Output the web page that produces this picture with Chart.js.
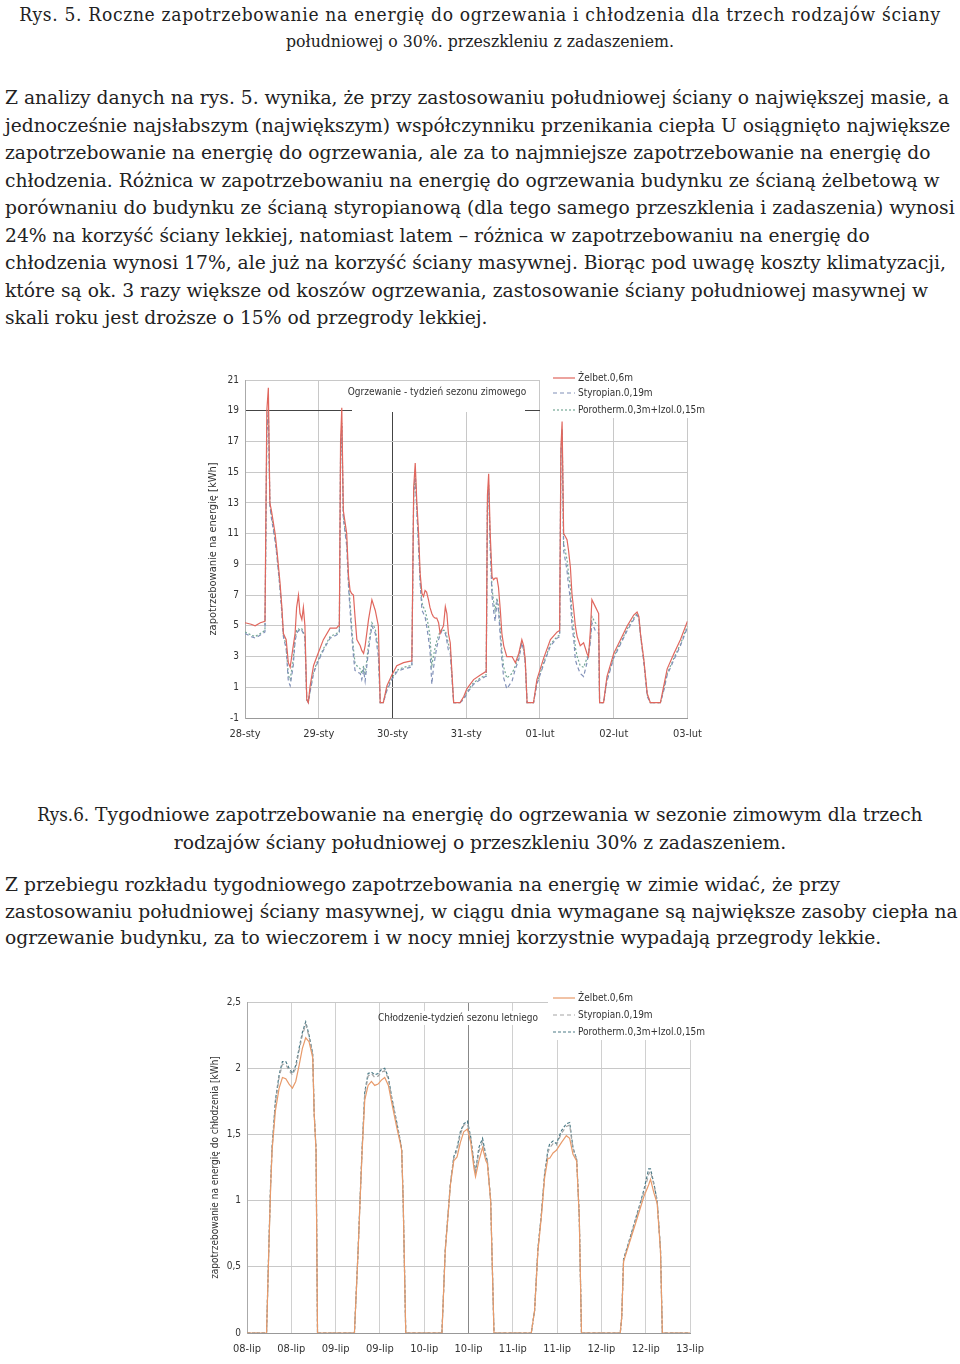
<!DOCTYPE html>
<html lang="pl">
<head>
<meta charset="utf-8">
<script src="https://cdn.jsdelivr.net/npm/chart.js@4.4.1/dist/chart.umd.min.js"></script>
<style>
  html, body { margin: 0; padding: 0; background: #fff; }
  body { width: 960px; height: 1364px; position: relative; overflow: hidden; color: #222; }
  .txt { position: absolute; white-space: nowrap; font-family: "DejaVu Serif", serif; font-size: 18.7px; }
  .cond { font-family: "DejaVu Serif Condensed", "DejaVu Serif", serif; font-stretch: condensed; }
  .center { left: 0; width: 960px; text-align: center; }
  canvas { position: absolute; }
</style>
</head>
<body>
<div class="txt cond center" style="top:1px; line-height:27px; font-size:19px; letter-spacing:0.7px;">Rys. 5. Roczne zapotrzebowanie na energię do ogrzewania i chłodzenia dla trzech rodzajów ściany</div>
<div class="txt cond center" style="top:28px; line-height:27px; font-size:17.5px;">południowej o 30%. przeszkleniu z zadaszeniem.</div>

<div class="txt" style="left:5px; top:84px; line-height:27.5px;">Z analizy danych na rys. 5. wynika, że przy zastosowaniu południowej ściany o największej masie, a<br>jednocześnie najsłabszym (największym) współczynniku przenikania ciepła U osiągnięto największe<br>zapotrzebowanie na energię do ogrzewania, ale za to najmniejsze zapotrzebowanie na energię do<br>chłodzenia. Różnica w zapotrzebowaniu na energię do ogrzewania budynku ze ścianą żelbetową w<br>porównaniu do budynku ze ścianą styropianową (dla tego samego przeszklenia i zadaszenia) wynosi<br>24% na korzyść ściany lekkiej, natomiast latem – różnica w zapotrzebowaniu na energię do<br>chłodzenia wynosi 17%, ale już na korzyść ściany masywnej. Biorąc pod uwagę koszty klimatyzacji,<br>które są ok. 3 razy większe od koszów ogrzewania, zastosowanie ściany południowej masywnej w<br>skali roku jest droższe o 15% od przegrody lekkiej.</div>

<canvas id="winter" width="507" height="385" style="left:205px; top:368px;"></canvas>

<div class="txt center" style="top:801px; line-height:28px;"><span class="cond">Rys.6.</span> Tygodniowe zapotrzebowanie na energię do ogrzewania w sezonie zimowym dla trzech<br>rodzajów ściany południowej o przeszkleniu 30% z zadaszeniem.</div>

<div class="txt" style="left:5px; top:872px; line-height:26.5px;">Z przebiegu rozkładu tygodniowego zapotrzebowania na energię w zimie widać, że przy<br>zastosowaniu południowej ściany masywnej, w ciągu dnia wymagane są największe zasoby ciepła na<br>ogrzewanie budynku, za to wieczorem i w nocy mniej korzystnie wypadają przegrody lekkie.</div>

<canvas id="summer" width="507" height="374" style="left:207px; top:990px;"></canvas>

<script>
// --- Rys.6: tydzień sezonu zimowego (godziny od 28-sty 00:00) ---
const winterDays = ["28-sty", "29-sty", "30-sty", "31-sty", "01-lut", "02-lut", "03-lut"];
const winterHours = [
  0, 2, 3.3, 5, 6.5, 7.1, 7.6, 8.1, 8.6, 9.8, 10.4, 11.4, 12.0, 12.5, 13.4, 14.1, 14.7, 15.7, 16.3, 16.8,
  17.4, 17.9, 18.5, 19.0, 19.5, 20.1, 20.6, 21.2, 22.3, 23.4, 25.5, 27.7, 29.8, 30.4, 30.7, 31.1, 31.5, 32.0, 33.1, 33.7,
  34.2, 34.7, 35.3, 35.8, 36.4, 37.5, 38.0, 38.6, 39.1, 40.2, 41.3, 42.4, 43.4, 44.0, 45.0, 46.2, 47.8, 49.4, 51.6, 53.8,
  54.3, 54.9, 55.4, 55.9, 56.5, 57.0, 57.6, 58.1, 58.6, 59.1, 59.7, 60.2, 60.8, 61.3, 61.9, 62.4, 63.0, 63.5, 64.1, 64.6,
  65.2, 65.7, 66.2, 66.8, 67.9, 70.0, 71.2, 72.2, 74.4, 76.6, 78.2, 78.5, 78.9, 79.3, 79.8, 80.4, 80.9, 81.4, 82.0, 82.5,
  83.1, 83.6, 84.2, 85.2, 86.9, 88.0, 89.1, 90.1, 90.7, 91.2, 91.8, 93.9, 95.0, 97.2, 99.4, 101.6, 102.4, 102.8, 103.2, 103.7,
  104.3, 104.8, 105.3, 105.9, 106.4, 107.0, 107.5, 108.1, 109.1, 110.2, 111.3, 111.8, 112.4, 112.9, 114.0, 115.1, 115.4, 116.7, 117.8, 120.0,
  122.2, 124.4, 126.5, 127.6, 128.2, 128.7, 129.8, 130.9, 131.9, 135.2, 136.3, 137.4, 139.6, 141.7, 144.0
];
const winterZelbet = [
  5.2, 5.1, 5.0, 5.2, 5.3, 19.0, 20.5, 13.0, 12.5, 11.0, 9.9, 7.8, 6.2, 4.5, 4.1, 2.6, 2.3, 3.7, 4.5, 6.2,
  7.0, 5.8, 5.4, 6.2, 5.0, 0.2, 0.0, 1.1, 2.4, 3.0, 4.1, 4.85, 4.85, 5.0, 5.0, 17.0, 19.2, 12.5, 11.0, 8.2,
  7.3, 7.1, 7.0, 5.6, 4.1, 3.7, 3.4, 3.2, 3.7, 5.4, 6.7, 6.0, 5.0, 0, 0, 1.1, 1.8, 2.4, 2.6, 2.7,
  2.7, 14.0, 15.6, 13.1, 11.0, 8.4, 7.1, 6.9, 7.3, 7.2, 6.7, 6.2, 5.8, 5.6, 5.5, 5.5, 5.2, 4.5, 4.8, 5.0,
  6.25, 5.8, 4.5, 3.9, 0, 0, 0.4, 0.9, 1.5, 1.8, 2.0, 2.0, 13.5, 14.9, 11.0, 8.2, 8.0, 8.1, 8.1, 7.5,
  6.0, 4.5, 3.7, 3.0, 3.0, 2.6, 3.2, 4.1, 3.7, 2.8, 0, 0, 1.5, 2.9, 4.1, 4.6, 4.7, 16.5, 18.3, 11.0,
  10.8, 10.6, 9.9, 8.8, 7.1, 6.0, 5.0, 4.3, 3.7, 3.9, 3.2, 3.0, 4.7, 6.7, 6.25, 5.8, 0, 0, 1.7, 3.2,
  4.1, 5.0, 5.7, 5.9, 5.6, 4.5, 2.8, 0.6, 0, 0, 1.1, 2.2, 3.2, 4.1, 5.3
];
const winterStyropian = [
  4.5, 4.3, 4.2, 4.4, 4.6, 17.5, 19.0, 12.8, 12.0, 10.5, 9.5, 7.4, 5.8, 4.3, 3.5, 1.4, 1.1, 2.4, 4.0, 4.5,
  4.7, 4.6, 4.7, 4.5, 4.2, 0.2, 0.0, 0.7, 1.9, 2.5, 3.4, 4.2, 4.4, 4.5, 4.5, 16.0, 18.0, 12.0, 10.2, 7.5,
  6.0, 4.5, 3.0, 2.1, 2.0, 1.9, 1.5, 2.1, 1.4, 3.4, 5.0, 4.5, 3.0, 0, 0, 0.8, 1.5, 2.0, 2.2, 2.3,
  2.3, 13.5, 14.9, 12.5, 10.0, 7.8, 6.0, 5.8, 5.6, 5.0, 4.2, 3.4, 1.2, 2.2, 3.0, 3.6, 4.1, 4.4, 4.7, 4.6,
  4.5, 4.0, 3.4, 3.2, 0, 0, 0.2, 0.6, 1.2, 1.5, 1.7, 1.7, 12.8, 14.0, 10.0, 6.9, 6.0, 5.3, 6.5, 6.0,
  4.2, 2.8, 1.6, 0.9, 1.4, 2.2, 2.8, 3.9, 3.4, 2.6, 0, 0, 1.2, 2.5, 3.7, 4.2, 4.3, 16.0, 17.7, 9.9,
  9.2, 8.6, 7.6, 6.7, 5.0, 4.1, 2.8, 2.4, 1.9, 1.7, 2.6, 3.2, 3.9, 5.2, 4.7, 4.5, 0, 0, 1.4, 2.9,
  3.8, 4.7, 5.4, 5.7, 5.5, 4.4, 2.6, 0.4, 0, 0, 0.8, 1.8, 2.8, 3.7, 4.9
];
const winterPorotherm = [
  4.6, 4.4, 4.3, 4.5, 4.7, 17.6, 19.1, 12.9, 12.2, 10.7, 9.6, 7.5, 6.0, 4.4, 3.7, 1.8, 1.5, 2.8, 4.2, 4.7,
  4.8, 4.7, 4.8, 4.6, 4.3, 0.2, 0.0, 0.8, 2.0, 2.6, 3.5, 4.3, 4.5, 4.6, 4.6, 16.0, 18.2, 12.2, 10.5, 7.8,
  6.5, 5.0, 3.5, 2.6, 2.4, 2.2, 1.9, 2.4, 1.8, 3.8, 5.2, 4.8, 3.5, 0, 0, 0.9, 1.6, 2.1, 2.3, 2.4,
  2.4, 13.5, 15.0, 12.7, 10.4, 8.0, 6.5, 6.2, 6.0, 5.6, 5.0, 4.3, 2.4, 3.0, 3.6, 4.0, 4.4, 4.6, 4.8, 4.7,
  4.7, 4.3, 3.8, 3.5, 0, 0, 0.3, 0.7, 1.3, 1.6, 1.8, 1.8, 13.0, 14.2, 10.4, 7.4, 6.6, 6.0, 6.8, 6.3,
  4.8, 3.4, 2.3, 1.6, 1.9, 2.4, 3.0, 4.0, 3.5, 2.7, 0, 0, 1.3, 2.6, 3.8, 4.3, 4.4, 16.0, 17.8, 10.3,
  9.8, 9.3, 8.4, 7.5, 5.8, 4.8, 3.6, 3.0, 2.4, 2.3, 2.9, 3.2, 4.2, 5.6, 5.2, 5.0, 0, 0, 1.5, 3.0,
  3.9, 4.8, 5.5, 5.8, 5.5, 4.4, 2.7, 0.5, 0, 0, 0.9, 1.9, 2.9, 3.8, 5.0
];

// --- tydzień sezonu letniego (godziny od 08-lip 00:00) ---
const summerLabels = ["08-lip", "08-lip", "09-lip", "09-lip", "10-lip", "10-lip", "11-lip", "11-lip", "12-lip", "12-lip", "13-lip"];
const summerHours = [
  0, 5.3, 5.9, 6.4, 6.8, 7.7, 8.7, 9.6, 10.5, 11.4, 12.3, 13.2, 14.1, 15.0, 15.9, 16.8, 17.8, 18.2, 18.7, 19.1,
  29.1, 30.1, 30.8, 31.2, 31.9, 32.8, 33.7, 34.6, 35.5, 36.4, 37.3, 38.3, 39.2, 40.5, 41.4, 41.9, 42.3, 43.0,
  52.8, 53.7, 55.1, 56.0, 56.9, 57.8, 58.7, 59.7, 60.6, 61.5, 61.9, 62.8, 63.8, 64.7, 65.1, 66.0, 66.9,
  77.0, 77.9, 78.8, 79.7, 80.6, 81.5, 82.0, 82.9, 83.8, 85.2, 86.5, 87.4, 88.3, 89.3, 90.0, 90.6,
  101.1, 101.5, 102.0, 102.9, 104.7, 106.6, 107.5, 108.8, 109.3, 110.2, 111.1, 112.0, 112.5, 120
];
const summerZelbet = [
  0, 0, 0.62, 1.1, 1.38, 1.68, 1.85, 1.93, 1.92, 1.88, 1.85, 1.9, 2.02, 2.15, 2.23, 2.2, 2.08, 1.65, 1.38, 0,
  0, 0.62, 1.12, 1.38, 1.76, 1.87, 1.9, 1.87, 1.88, 1.91, 1.93, 1.87, 1.74, 1.56, 1.45, 1.38, 1.0, 0,
  0, 0.62, 1.12, 1.3, 1.33, 1.44, 1.52, 1.54, 1.44, 1.24, 1.18, 1.3, 1.4, 1.3, 1.28, 1.0, 0,
  0, 0.17, 0.62, 0.87, 1.17, 1.32, 1.32, 1.36, 1.38, 1.44, 1.49, 1.47, 1.35, 1.3, 0.88, 0,
  0, 0.12, 0.54, 0.62, 0.78, 0.95, 1.03, 1.12, 1.16, 1.06, 0.98, 0.62, 0, 0
];
const summerStyropian = [
  0, 0, 0.63, 1.12, 1.4, 1.74, 1.93, 2.03, 2.03, 1.98, 1.95, 2.0, 2.13, 2.25, 2.33, 2.24, 2.1, 1.66, 1.39, 0,
  0, 0.63, 1.13, 1.4, 1.8, 1.94, 1.96, 1.93, 1.94, 1.97, 1.98, 1.92, 1.77, 1.59, 1.46, 1.39, 1.0, 0,
  0, 0.63, 1.13, 1.32, 1.38, 1.5, 1.57, 1.58, 1.47, 1.27, 1.21, 1.37, 1.44, 1.33, 1.3, 1.0, 0,
  0, 0.17, 0.63, 0.88, 1.19, 1.36, 1.4, 1.43, 1.42, 1.51, 1.56, 1.57, 1.39, 1.31, 0.88, 0,
  0, 0.12, 0.55, 0.63, 0.8, 0.98, 1.06, 1.2, 1.22, 1.12, 1.0, 0.63, 0, 0
];
const summerPorotherm = [
  0, 0, 0.64, 1.13, 1.41, 1.76, 1.95, 2.05, 2.05, 2.0, 1.96, 2.02, 2.15, 2.27, 2.35, 2.25, 2.11, 1.66, 1.39, 0,
  0, 0.63, 1.13, 1.41, 1.82, 1.96, 1.97, 1.95, 1.96, 1.99, 2.0, 1.93, 1.78, 1.6, 1.47, 1.39, 1.0, 0,
  0, 0.63, 1.13, 1.33, 1.4, 1.52, 1.58, 1.6, 1.48, 1.28, 1.22, 1.4, 1.47, 1.34, 1.3, 1.0, 0,
  0, 0.17, 0.64, 0.89, 1.2, 1.38, 1.43, 1.45, 1.43, 1.53, 1.58, 1.59, 1.4, 1.31, 0.88, 0,
  0, 0.12, 0.56, 0.64, 0.81, 0.99, 1.08, 1.24, 1.24, 1.13, 1.0, 0.63, 0, 0
];

const chartFont = "'DejaVu Sans Condensed', 'DejaVu Sans', sans-serif";
Chart.defaults.font.family = chartFont;
Chart.defaults.color = "#333";

function toPoints(xs, ys) {
  return xs.map((x, i) => ({ x, y: ys[i] }));
}

// white boxes with the chart title and the legend, drawn over the plot like in the source image
const overlayPlugin = {
  id: "overlay",
  afterDatasetsDraw(chart, args, opts) {
    const ctx = chart.ctx;
    ctx.save();
    ctx.fillStyle = "#fff";
    if (opts.titleBox) ctx.fillRect(...opts.titleBox);
    ctx.fillRect(...opts.legendBox);
    ctx.fillStyle = "#333";
    ctx.font = "10px " + chartFont;
    ctx.textAlign = "center";
    ctx.textBaseline = "middle";
    ctx.fillText(opts.title, opts.titlePos[0], opts.titlePos[1]);
    ctx.textAlign = "left";
    chart.data.datasets.forEach((ds, i) => {
      const y = opts.legendY[i];
      ctx.beginPath();
      ctx.strokeStyle = ds.borderColor;
      ctx.lineWidth = 1.2;
      ctx.setLineDash(ds.borderDash || []);
      ctx.moveTo(opts.legendX, y);
      ctx.lineTo(opts.legendX + 22, y);
      ctx.stroke();
      ctx.setLineDash([]);
      ctx.fillStyle = "#333";
      ctx.fillText(ds.label, opts.legendX + 25, y);
    });
    ctx.restore();
  },
};

new Chart(document.getElementById("winter"), {
  type: "line",
  data: {
    datasets: [
      { label: "Żelbet.0,6m", data: toPoints(winterHours, winterZelbet), borderColor: "#e0675e", borderWidth: 1.2 },
      { label: "Styropian.0,19m", data: toPoints(winterHours, winterStyropian), borderColor: "#8090b8", borderWidth: 1.2, borderDash: [4, 3] },
      { label: "Porotherm.0,3m+Izol.0,15m", data: toPoints(winterHours, winterPorotherm), borderColor: "#74a896", borderWidth: 1.2, borderDash: [2, 2] },
    ],
  },
  options: {
    responsive: false,
    animation: false,
    devicePixelRatio: 1,
    elements: { point: { radius: 0 }, line: { tension: 0 } },
    layout: { padding: { left: 0, right: 20, top: 10, bottom: 0 } },
    plugins: {
      legend: { display: false },
      tooltip: { enabled: false },
      overlay: {
        title: "Ogrzewanie - tydzień sezonu zimowego",
        titleBox: [147, 13, 173, 31],
        titlePos: [232, 24],
        legendBox: [335, 0, 172, 50],
        legendX: 348,
        legendY: [10, 25, 42],
      },
    },
    scales: {
      x: {
        type: "linear",
        min: 0,
        max: 144,
        afterFit: (s) => { s.height = 35; },
        ticks: { stepSize: 24, padding: 10, font: { size: 11 }, callback: (v) => winterDays[v / 24] },
        grid: {
          drawTicks: false,
          color: (c) => (c.tick && c.tick.value === 48 ? "#444" : "#c8c8c8"),
        },
        border: { color: "#999" },
      },
      y: {
        min: -1,
        max: 21,
        afterFit: (s) => { s.width = 40; },
        ticks: { stepSize: 2, padding: 6, font: { size: 10 } },
        grid: {
          drawTicks: false,
          color: (c) => (c.tick && (c.tick.value === 19 || c.tick.value === 0) ? "#444" : "#c8c8c8"),
        },
        border: { color: "#aaa" },
        title: { display: true, text: "zapotrzebowanie na energię [kWh]", font: { size: 11 }, padding: 2 },
      },
    },
  },
  plugins: [overlayPlugin],
});

new Chart(document.getElementById("summer"), {
  type: "line",
  data: {
    datasets: [
      { label: "Żelbet.0,6m", data: toPoints(summerHours, summerZelbet), borderColor: "#e89a6a", borderWidth: 1.2 },
      { label: "Styropian.0,19m", data: toPoints(summerHours, summerStyropian), borderColor: "#a4a4a4", borderWidth: 1.2, borderDash: [4, 3] },
      { label: "Porotherm.0,3m+Izol.0,15m", data: toPoints(summerHours, summerPorotherm), borderColor: "#4a7a86", borderWidth: 1.2, borderDash: [3, 2] },
    ],
  },
  options: {
    responsive: false,
    animation: false,
    devicePixelRatio: 1,
    elements: { point: { radius: 0 }, line: { tension: 0 } },
    layout: { padding: { left: 0, right: 21, top: 10, bottom: 0 } },
    plugins: {
      legend: { display: false },
      tooltip: { enabled: false },
      overlay: {
        title: "Chłodzenie-tydzień sezonu letniego",
        titleBox: [180, 21, 142, 14],
        titlePos: [251, 28],
        legendBox: [341, 0, 166, 50],
        legendX: 346,
        legendY: [8, 25, 42],
      },
    },
    scales: {
      x: {
        type: "linear",
        min: 0,
        max: 120,
        afterFit: (s) => { s.height = 31; },
        ticks: { stepSize: 12, padding: 10, font: { size: 11 }, callback: (v) => summerLabels[v / 12] },
        grid: {
          drawTicks: false,
          color: (c) => (c.tick && c.tick.value === 60 ? "#888" : "#d0d0d0"),
        },
        border: { color: "#999" },
      },
      y: {
        min: 0,
        max: 2.5,
        afterFit: (s) => { s.width = 40; },
        ticks: { stepSize: 0.5, padding: 6, font: { size: 10 }, callback: (v) => String(v).replace(".", ",") },
        grid: {
          drawTicks: false,
          color: (c) => (c.tick && c.tick.value === 0 ? "#999" : "#c8c8c8"),
        },
        border: { color: "#aaa" },
        title: { display: true, text: "zapotrzebowanie na energię do chłodzenia [kWh]", font: { size: 10 }, padding: 2 },
      },
    },
  },
  plugins: [overlayPlugin],
});
</script>
</body>
</html>
